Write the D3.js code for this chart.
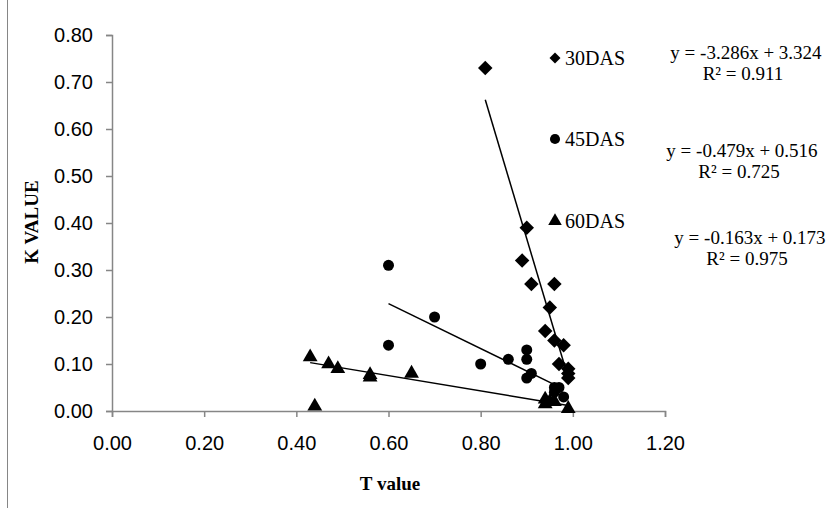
<!DOCTYPE html>
<html>
<head>
<meta charset="utf-8">
<script src="https://cdn.jsdelivr.net/npm/d3@7"></script>
<style>
  body { margin: 0; background: #fff; }
  svg { display: block; }
</style>
</head>
<body>
<svg id="chart" width="840" height="508"></svg>
<script>
// T value / K value readings for each sampling date
let t30 = [0.81, 0.90, 0.89, 0.91, 0.96, 0.95, 0.94, 0.96, 0.98, 0.97, 0.99, 0.99, 0.99];
let k30 = [0.73, 0.39, 0.32, 0.27, 0.27, 0.22, 0.17, 0.15, 0.14, 0.10, 0.09, 0.08, 0.07];

let t45 = [0.60, 0.60, 0.70, 0.80, 0.86, 0.90, 0.90, 0.90, 0.91, 0.96, 0.97, 0.96, 0.98];
let k45 = [0.31, 0.14, 0.20, 0.10, 0.11, 0.13, 0.11, 0.07, 0.08, 0.05, 0.05, 0.04, 0.03];

let t60 = [0.43, 0.47, 0.49, 0.56, 0.56, 0.65, 0.44, 0.94, 0.95, 0.96, 0.94, 0.99];
let k60 = [0.115, 0.10, 0.09, 0.077, 0.072, 0.08, 0.01, 0.025, 0.02, 0.02, 0.015, 0.005];

let seriesNames = ["30DAS", "45DAS", "60DAS"];
let slopes = [-3.286, -0.479, -0.163];
let intercepts = [3.324, 0.516, 0.173];
let rSquared = ["0.911", "0.725", "0.975"];

let xTicks = [0, 0.2, 0.4, 0.6, 0.8, 1.0, 1.2];
let yTicks = [0, 0.1, 0.2, 0.3, 0.4, 0.5, 0.6, 0.7, 0.8];

let svg = d3.select("#chart");

// chart frame: only its left edge falls inside the picture
svg.append("line")
    .attr("x1", 7.5).attr("y1", 0)
    .attr("x2", 7.5).attr("y2", 508)
    .attr("stroke", "#868686");

let x = d3.scaleLinear().domain([0, 1.2]).range([112, 665]);
let y = d3.scaleLinear().domain([0, 0.8]).range([411, 35]);

let axisColor = "#868686";
let tickFont = "'Liberation Sans', Arial, sans-serif";
let serif = "'Liberation Serif', 'Times New Roman', serif";

let xAxis = svg.append("g")
    .attr("transform", "translate(0,411)")
    .call(d3.axisBottom(x).tickValues(xTicks).tickFormat(d3.format(".2f")).tickSize(6).tickPadding(19));

let yAxis = svg.append("g")
    .attr("transform", "translate(112,0)")
    .call(d3.axisLeft(y).tickValues(yTicks).tickFormat(d3.format(".2f")).tickSize(6).tickPadding(13));

[xAxis, yAxis].forEach(function (g) {
    g.select(".domain").attr("stroke", axisColor).attr("stroke-width", 1.5);
    g.selectAll(".tick line").attr("stroke", axisColor).attr("stroke-width", 1.5);
    g.selectAll(".tick text")
        .attr("fill", "#000")
        .style("font-family", tickFont)
        .style("font-size", "20px");
});

// axis titles
svg.append("text")
    .attr("x", 390).attr("y", 490)
    .attr("text-anchor", "middle")
    .style("font-family", serif)
    .style("font-weight", "bold")
    .style("font-size", "19px")
    .text("T value");

svg.append("text")
    .attr("transform", "translate(38,222) rotate(-90)")
    .attr("text-anchor", "middle")
    .style("font-family", serif)
    .style("font-weight", "bold")
    .style("font-size", "19px")
    .text("K VALUE");

let symbols = [
    d3.symbol().type(d3.symbolSquare).size(105),
    d3.symbol().type(d3.symbolCircle).size(95),
    d3.symbol().type(d3.symbolTriangle).size(95)
];
let rotations = [45, 0, 0];

let series = [
    d3.zip(t30, k30),
    d3.zip(t45, k45),
    d3.zip(t60, k60)
];

// linear trend lines over each series' T range
series.forEach(function (pts, i) {
    let ext = d3.extent(pts, (d) => d[0]);
    let f = (t) => slopes[i] * t + intercepts[i];
    svg.append("line")
        .attr("x1", x(ext[0])).attr("y1", y(f(ext[0])))
        .attr("x2", x(ext[1])).attr("y2", y(f(ext[1])))
        .attr("stroke", "#000")
        .attr("stroke-width", 1.5);
});

series.forEach(function (pts, i) {
    svg.append("g")
        .selectAll("path")
        .data(pts)
        .enter().append("path")
        .attr("d", symbols[i])
        .attr("transform", (d) => "translate(" + x(d[0]) + "," + y(d[1]) + ") rotate(" + rotations[i] + ")")
        .attr("fill", "#000");
});

// legend inside the plot
let legendY = [58, 139, 221];
let legendSymbols = [
    d3.symbol().type(d3.symbolSquare).size(60),
    d3.symbol().type(d3.symbolCircle).size(80),
    d3.symbol().type(d3.symbolTriangle).size(80)
];
seriesNames.forEach(function (name, i) {
    svg.append("path")
        .attr("d", legendSymbols[i])
        .attr("transform", "translate(555," + legendY[i] + ") rotate(" + rotations[i] + ")")
        .attr("fill", "#000");
    svg.append("text")
        .attr("x", 565).attr("y", legendY[i])
        .attr("dy", "0.35em")
        .style("font-family", serif)
        .style("font-size", "20px")
        .text(name);
});

// trend line equations
let eqX = [746, 742, 750];
let eqY = [52, 150, 237];
seriesNames.forEach(function (name, i) {
    let b = intercepts[i];
    let txt = svg.append("text")
        .attr("text-anchor", "middle")
        .style("font-family", serif)
        .style("font-size", "19px");
    txt.append("tspan")
        .attr("x", eqX[i]).attr("y", eqY[i]).attr("dy", "0.35em")
        .text("y = " + slopes[i].toFixed(3) + "x + " + b.toFixed(3));
    txt.append("tspan")
        .attr("x", eqX[i] - 3).attr("y", eqY[i] + 21).attr("dy", "0.35em")
        .text("R\u00B2 = " + rSquared[i]);
});
</script>
</body>
</html>
